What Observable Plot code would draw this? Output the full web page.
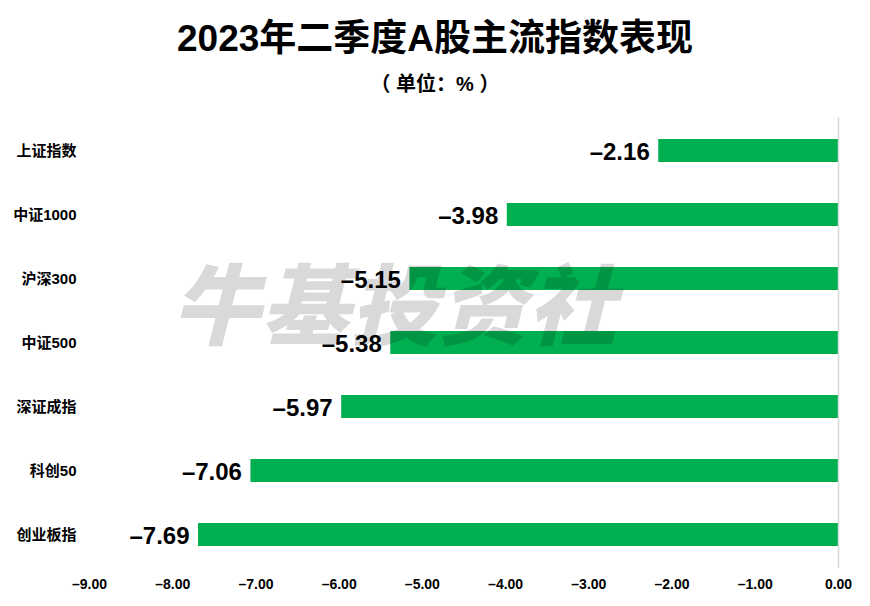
<!DOCTYPE html>
<html>
<head>
<meta charset="utf-8">
<script src="https://cdn.jsdelivr.net/npm/d3@7"></script>
<script src="https://cdn.jsdelivr.net/npm/@observablehq/plot@0.6"></script>
<style>
  body { margin: 0; background: #fff; width: 870px; height: 606px; overflow: hidden; position: relative; }
  #head { height: 105px; position: relative; }
  #title { position: absolute; top: 17px; left: 0; width: 870px; text-align: center;
    font-family: "Liberation Sans", "Noto Sans CJK SC", sans-serif; font-weight: 700; font-size: 37px; color: #000; line-height: 44px; }
  #sub { position: absolute; top: 70px; left: 0; width: 870px; text-align: center;
    font-family: "Liberation Sans", "Noto Sans CJK SC", sans-serif; font-weight: 700; font-size: 20px; color: #000; line-height: 28px; }
  #wm { position: absolute; left: 172px; top: 250px; font-family: "Noto Sans CJK SC", sans-serif; font-weight: 900;
    font-style: italic; font-size: 88px; line-height: 100px; color: rgba(0,0,0,0.15); letter-spacing: 1px; pointer-events: none; }
</style>
</head>
<body>
<div id="head"><div id="title"></div><div id="sub"></div></div>
<div id="chart"></div>
<div id="wm"></div>
<script>
const titleText = "2023年二季度A股主流指数表现";
const subtitleText = "（ 单位：% ）";
const watermarkText = "牛基投资社";
const categories = ["上证指数", "中证1000", "沪深300", "中证500", "深证成指", "科创50", "创业板指"];
const values = [-2.16, -3.98, -5.15, -5.38, -5.97, -7.06, -7.69];
const xTicks = [-9, -8, -7, -6, -5, -4, -3, -2, -1, 0];

document.getElementById("title").textContent = titleText;
document.getElementById("sub").textContent = subtitleText;
document.getElementById("wm").textContent = watermarkText;

const data = categories.map((c, i) => ({name: c, value: values[i]}));
const fmt = v => (v < 0 ? "\u2013" : "") + Math.abs(v).toFixed(2);

const chart = Plot.plot({
  width: 870,
  height: 501,
  marginTop: 12,
  marginBottom: 38,
  marginLeft: 89,
  marginRight: 32,
  style: {fontFamily: "'Liberation Sans', 'Noto Sans CJK SC', sans-serif", background: "#fff", color: "#000"},
  x: {domain: [-9, 0], label: null},
  y: {domain: categories, paddingInner: 0.643, paddingOuter: 0.31, label: null},
  marks: [
    Plot.barX(data, {x: "value", y: "name", fill: "#00B050"}),
    Plot.ruleX([0], {stroke: "#d9d9d9", strokeWidth: 1.5}),
    Plot.text(data, {x: "value", y: "name", text: d => fmt(d.value), textAnchor: "end", dx: -9, dy: 1,
      fontSize: 24, fontWeight: 700, fill: "#000"}),
    Plot.axisX({ticks: xTicks, tickFormat: d => fmt(d), tickSize: 0, tickPadding: 11, fontSize: 14, fontWeight: 700, label: null}),
    Plot.axisY({tickSize: 0, tickPadding: 13, fontSize: 15, fontWeight: 700, label: null})
  ]
});
document.getElementById("chart").appendChild(chart);
</script>
</body>
</html>
